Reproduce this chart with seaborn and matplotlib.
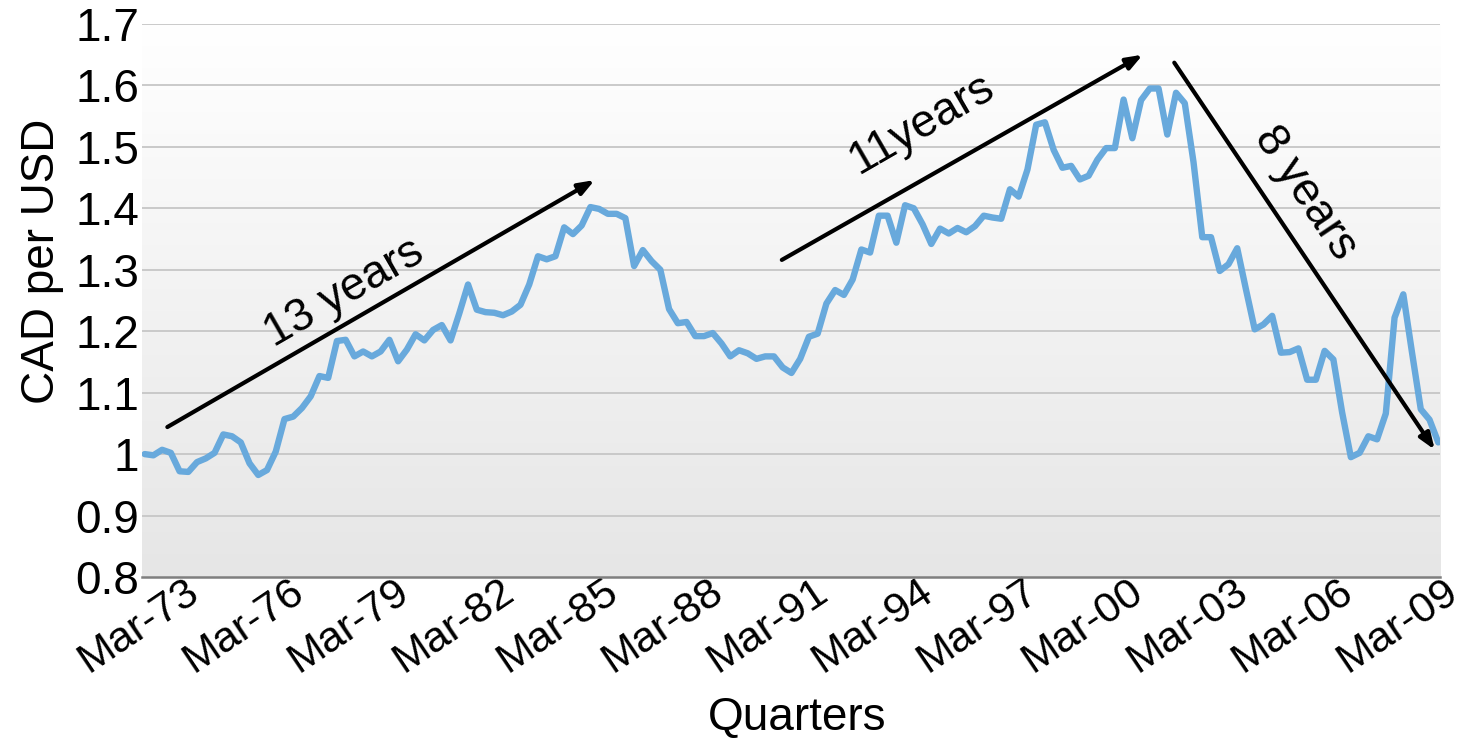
import numpy as np
import pandas as pd
import matplotlib
matplotlib.use('Agg')
import matplotlib.pyplot as plt
import matplotlib.transforms as mtransforms
import seaborn as sns

# CAD per USD, end of quarter, Mar-73 .. Mar-10
cad_per_usd = [
    1.000, 0.998, 1.007, 1.002, 0.972, 0.971, 0.987, 0.993, 1.002, 1.032,
    1.029, 1.019, 0.985, 0.966, 0.974, 1.004, 1.057, 1.061, 1.075, 1.094,
    1.127, 1.124, 1.184, 1.186, 1.159, 1.167, 1.159, 1.167, 1.186, 1.151,
    1.170, 1.195, 1.185, 1.202, 1.210, 1.185, 1.229, 1.276, 1.235, 1.231,
    1.230, 1.226, 1.232, 1.243, 1.276, 1.322, 1.317, 1.322, 1.369, 1.358,
    1.372, 1.402, 1.399, 1.391, 1.391, 1.384, 1.306, 1.332, 1.314, 1.300,
    1.236, 1.213, 1.215, 1.192, 1.192, 1.197, 1.180, 1.159, 1.169, 1.164,
    1.155, 1.159, 1.159, 1.141, 1.132, 1.155, 1.191, 1.196, 1.245, 1.267,
    1.259, 1.284, 1.333, 1.328, 1.388, 1.388, 1.344, 1.405, 1.400, 1.374,
    1.342, 1.367, 1.359, 1.368, 1.361, 1.371, 1.388, 1.385, 1.383, 1.431,
    1.419, 1.463, 1.536, 1.540, 1.495, 1.466, 1.469, 1.447, 1.453, 1.479,
    1.498, 1.498, 1.577, 1.514, 1.576, 1.595, 1.595, 1.520, 1.588, 1.571,
    1.475, 1.353, 1.353, 1.298, 1.309, 1.335, 1.268, 1.203, 1.211, 1.225,
    1.165, 1.166, 1.172, 1.121, 1.121, 1.168, 1.154, 1.068, 0.995, 1.002,
    1.029, 1.024, 1.066, 1.222, 1.260, 1.165, 1.073, 1.056, 1.019,
]

tick_labels = ['Mar-73', 'Mar-76', 'Mar-79', 'Mar-82', 'Mar-85', 'Mar-88', 'Mar-91',
               'Mar-94', 'Mar-97', 'Mar-00', 'Mar-03', 'Mar-06', 'Mar-09']
tick_every = 12  # quarters between labels
y_ticks = [0.8, 0.9, 1.0, 1.1, 1.2, 1.3, 1.4, 1.5, 1.6, 1.7]
y_labels = ['0.8', '0.9', '1', '1.1', '1.2', '1.3', '1.4', '1.5', '1.6', '1.7']

# trend arrows: (start quarter, start value, end quarter, end value)
trends = [
    (2.6, 1.044, 51.5, 1.446),
    (72.9, 1.316, 114.2, 1.650),
    (117.8, 1.637, 147.6, 1.007),
]
# trend labels: (quarter, value, text, angle)
trend_text = [
    (22.8, 1.262, '13 years', 30),
    (88.9, 1.538, '11years', 30),
    (132.8, 1.425, '8 years', -56),
]

df = pd.DataFrame({'quarter': np.arange(len(cad_per_usd)), 'rate': cad_per_usd})

sns.set_theme(style='white')
plt.rcParams['font.family'] = ['Liberation Sans', 'DejaVu Sans']
plt.rcParams['text.color'] = 'black'
plt.rcParams['axes.labelcolor'] = 'black'
plt.rcParams['xtick.color'] = 'black'
plt.rcParams['ytick.color'] = 'black'

fig = plt.figure(figsize=(14.67, 7.42), dpi=100)
ax = fig.add_axes([0.0968, 0.2224, 0.8848, 0.7453])

# grey gradient behind the plot area
grad = np.linspace(0, 1, 256).reshape(-1, 1)
ax.imshow(grad, extent=[0, 1, 0, 1], transform=ax.transAxes, aspect='auto',
          cmap=matplotlib.colors.LinearSegmentedColormap.from_list('bg', ['#e6e6e6', '#ffffff']),
          origin='lower', zorder=0)

for v in y_ticks[1:]:
    ax.axhline(v, color='#c6c6c6', lw=1.3, zorder=1)

sns.lineplot(data=df, x='quarter', y='rate', color='#68a9dc', lw=4.6, ax=ax, zorder=3)

for x0, y0, x1, y1 in trends:
    ax.annotate('', xy=(x1, y1), xytext=(x0, y0),
                arrowprops=dict(arrowstyle='-|>,head_length=0.8,head_width=0.3',
                                color='black', lw=3, shrinkA=0, shrinkB=0),
                zorder=4, annotation_clip=False)
for x, y, s, ang in trend_text:
    ax.text(x, y, s, rotation=ang, rotation_mode='anchor', ha='center', va='center',
            fontsize=33, color='black', zorder=5)

ax.set_xlim(-0.3, len(cad_per_usd) - 0.8)
ax.set_ylim(0.8, 1.7)
ax.set_yticks(y_ticks)
ax.set_yticklabels(y_labels, fontsize=33)
ax.set_xticks(np.arange(0, len(tick_labels) * tick_every, tick_every))
ax.set_xticklabels(tick_labels, fontsize=31, rotation=34, ha='center')
ax.tick_params(axis='x', length=0, pad=0)
ax.tick_params(axis='y', length=0, pad=2)

# nudge the slanted date labels a little left/up so the last one fits
shift = mtransforms.ScaledTranslation(-6 / 100, 6 / 100, fig.dpi_scale_trans)
for lab in ax.get_xticklabels():
    lab.set_transform(lab.get_transform() + shift)

for side in ['left', 'right', 'top']:
    ax.spines[side].set_visible(False)
ax.spines['bottom'].set_color('#7f7f7f')
ax.spines['bottom'].set_linewidth(1.8)
ax.spines['bottom'].set_zorder(6)

ax.set_xlabel('Quarters', fontsize=33)
ax.set_ylabel('CAD per USD', fontsize=33)
ax.xaxis.set_label_coords(0.505, -0.215)
ax.yaxis.set_label_coords(-0.06, 0.57)

fig.savefig('out.png', dpi=100)
